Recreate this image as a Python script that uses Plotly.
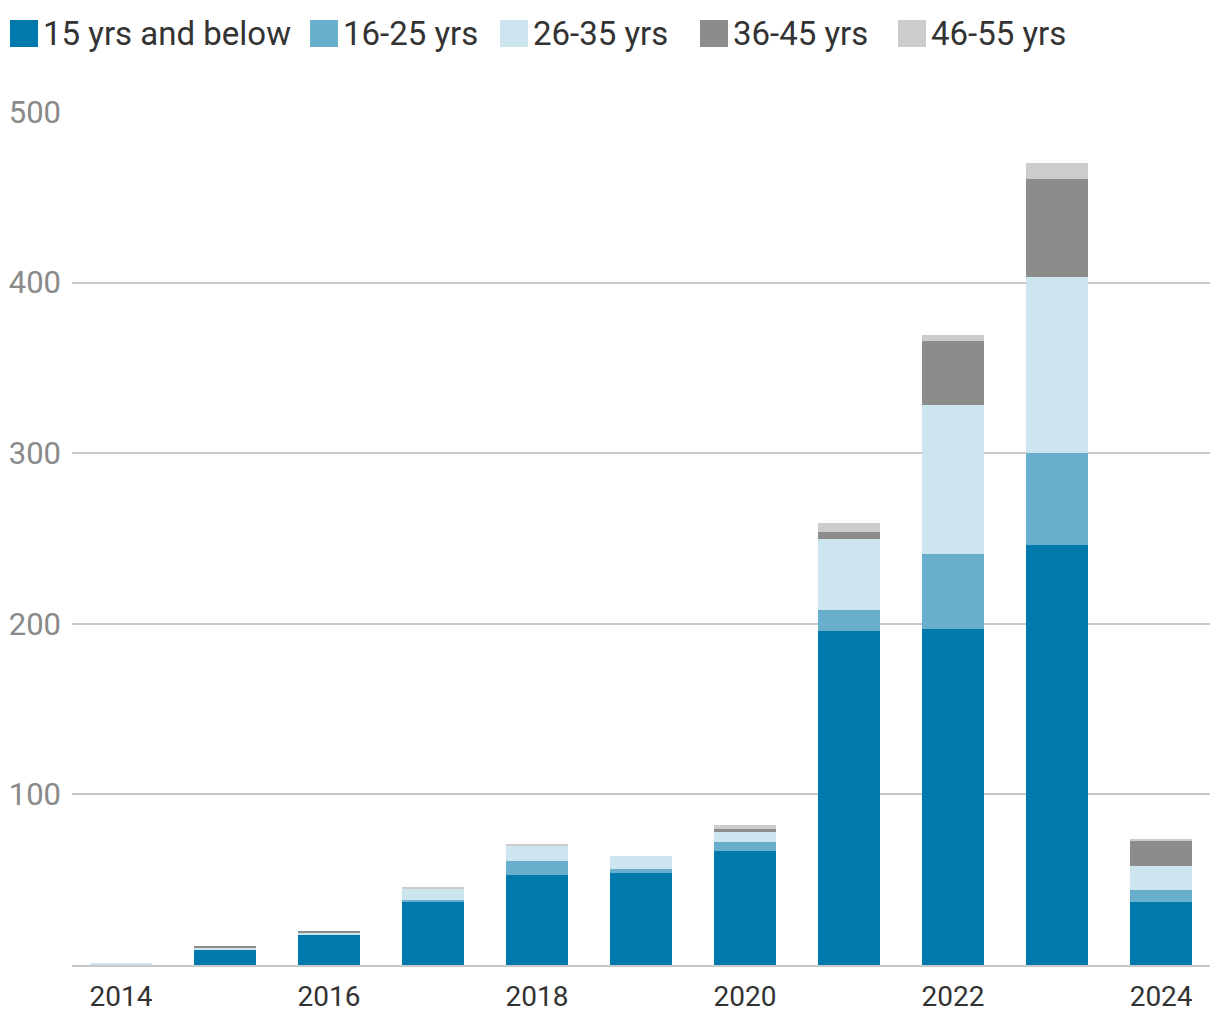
import plotly.graph_objects as go

years = [2014, 2015, 2016, 2017, 2018, 2019, 2020, 2021, 2022, 2023, 2024]
series_names = ["15 yrs and below", "16-25 yrs", "26-35 yrs", "36-45 yrs", "46-55 yrs"]
v_15_below = [0, 9, 18, 37, 53, 54, 67, 196, 197, 246, 37]
v_16_25 = [0, 0, 0, 1, 8, 2, 5, 12, 44, 54, 7]
v_26_35 = [1, 1, 1, 7, 9, 8, 6, 42, 87, 103, 14]
v_36_45 = [0, 1, 1, 0, 0, 0, 2, 4, 38, 58, 15]
v_46_55 = [0, 0, 0, 1, 1, 0, 2, 5, 3, 9, 1]
colors = ["#007AAD", "#67AFCD", "#CDE5EF", "#8C8C8C", "#CCCCCC"]
y_ticks = [100, 200, 300, 400, 500]
x_ticks = [2014, 2016, 2018, 2020, 2022, 2024]

values = [v_15_below, v_16_25, v_26_35, v_36_45, v_46_55]

fig = go.Figure()
for name, vals, col in zip(series_names, values, colors):
    fig.add_trace(go.Bar(x=years, y=vals, name=name, marker=dict(color=col, line=dict(width=0)),
                         showlegend=False))

# page offset of the browser (body margin)
OFF = 8
W, H = 1220, 1020
ml, mr, mt, mb = 72 - OFF, 10 + OFF, 112 - OFF, 55 + OFF
pw = W - ml - mr
ph = H - mt - mb
def px_to_paper_x(px):
    return (px - OFF - ml) / pw
def px_to_paper_y(py):
    return (H - mb - (py - OFF)) / ph

leg_x = [10, 310, 500, 700, 898]
shapes = []
annotations = []
for name, col, x0 in zip(series_names, colors, leg_x):
    shapes.append(dict(type="rect", xref="paper", yref="paper",
                       x0=px_to_paper_x(x0), x1=px_to_paper_x(x0 + 28),
                       y0=px_to_paper_y(47), y1=px_to_paper_y(20),
                       fillcolor=col, line=dict(width=0)))
    annotations.append(dict(xref="paper", yref="paper", x=px_to_paper_x(x0 + 31),
                            y=px_to_paper_y(34), text=name, showarrow=False,
                            xanchor="left", yanchor="middle",
                            font=dict(family="Roboto", size=33, color="#333333")))

fig.update_layout(
    width=W, height=H,
    margin=dict(l=ml, r=mr, t=mt, b=mb, autoexpand=False),
    paper_bgcolor="white", plot_bgcolor="white",
    barmode="stack", bargap=0.41,
    shapes=shapes, annotations=annotations,
    font=dict(family="Roboto"),
)
fig.update_xaxes(range=[2013.53, 2024.47], tickvals=x_ticks, ticktext=[str(t) for t in x_ticks],
                 showgrid=False, showline=True, linecolor="#C8C8C8", linewidth=2,
                 ticks="", tickfont=dict(size=28, color="#333333"), zeroline=False,
                 ticklabelstandoff=5, automargin=False)
fig.update_yaxes(range=[0, 500], tickvals=y_ticks, showgrid=True, gridcolor="#C8C8C8",
                 gridwidth=1.5, zeroline=False, showline=False, ticks="",
                 tickfont=dict(size=31, color="#8A8A8A"), ticklabelstandoff=10,
                 automargin=False)

fig.write_html("out.html")
